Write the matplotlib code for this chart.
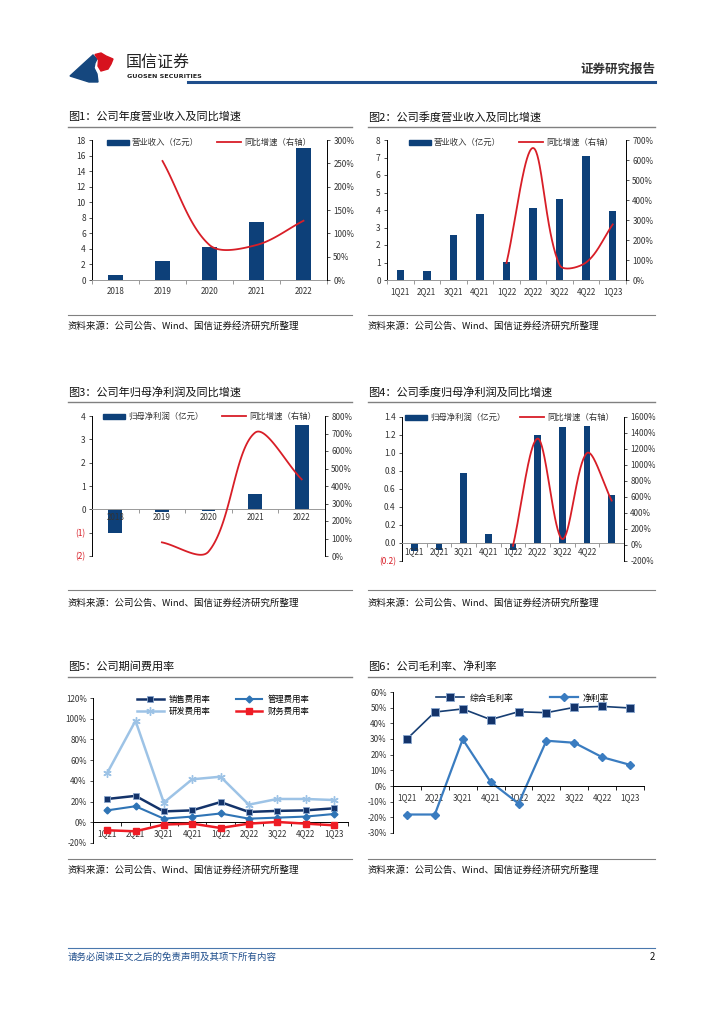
import numpy as np
from matplotlib import pyplot as plt
from matplotlib.patches import Rectangle, Polygon
from matplotlib.lines import Line2D

plt.rcParams['font.family'] = ['Noto Sans CJK SC', 'DejaVu Sans']
plt.rcParams['axes.linewidth'] = 0.7

## Data
years = ['2018', '2019', '2020', '2021', '2022']
rev_year = [0.7, 2.45, 4.3, 7.5, 17.0]
rev_year_yoy = [255, 75, 75, 127]            # from 2019

quarters = ['1Q21', '2Q21', '3Q21', '4Q21', '1Q22', '2Q22', '3Q22', '4Q22', '1Q23']
rev_q = [0.55, 0.5, 2.6, 3.8, 1.02, 4.1, 4.65, 7.1, 3.95]
rev_q_yoy = [85, 660, 75, 88, 278]          # from 1Q22

np_year = [-1.0, -0.12, -0.05, 0.65, 3.62]
np_year_yoy = [78, 25, 705, 438]            # from 2019

np_q = [-0.085, -0.08, 0.78, 0.1, -0.08, 1.2, 1.29, 1.3, 0.53]
np_q_yoy = [-10, 1330, 75, 1150, 555]       # from 1Q22
np_q_labels = ['1Q21', '2Q21', '3Q21', '4Q21', '1Q22', '2Q22', '3Q22', '4Q22', '']

sell_rate = [22.5, 25.5, 10.5, 11.5, 19.5, 10, 11, 11.5, 13.5]
admin_rate = [11.5, 15.5, 3.5, 5.5, 8.5, 3.5, 4.5, 5.5, 8]
rd_rate = [47.5, 98, 19, 41.5, 44, 17, 22.5, 22.5, 21.5]
fin_rate = [-7.7, -8.7, -2.2, -1.3, -5.5, -1.3, 0.3, -1.3, -2.9]

gross_margin = [30, 47.2, 49.2, 42.4, 47.4, 46.8, 50.2, 50.8, 49.8]
net_margin = [-18.2, -18.2, 29.8, 2.6, -11.2, 28.9, 27.6, 18.4, 13.5]

W, H = 724, 1024
NAVY = '#0d4079'
RED = '#d81e27'
GRAY = '#333333'
TK = 5.8
fig = plt.figure(figsize=(W / 100, H / 100), dpi=100)


def fx(x):
    return x / W


def fy(y):
    return 1 - y / H


def axes_px(x0, y0, x1, y1):
    return fig.add_axes([x0 / W, 1 - y1 / H, (x1 - x0) / W, (y1 - y0) / H])


def smooth(xs, ys, kx, ky, n=40):
    # excel-like smoothed line: bezier through the points, tangents weighted by
    # segment length on screen (kx, ky = pixels per data unit)
    p = np.column_stack([np.asarray(xs, float) * kx, np.asarray(ys, float) * ky])
    p = np.vstack([p[0], p, p[-1]])
    d = np.hypot(*np.diff(p, axis=0).T)
    t = np.linspace(0, 1, n)
    out = []
    for i in range(1, len(p) - 2):
        p0, p3 = p[i], p[i + 1]
        w0 = d[i] / (d[i - 1] + d[i]) if d[i - 1] + d[i] > 0 else 0.5
        w1 = d[i] / (d[i] + d[i + 1]) if d[i] + d[i + 1] > 0 else 0.5
        c1 = p0 + (p[i + 1] - p[i - 1]) * w0 / 3
        c2 = p3 - (p[i + 2] - p[i]) * w1 / 3
        b = ((1 - t) ** 3)[:, None] * p0 + (3 * (1 - t) ** 2 * t)[:, None] * c1 \
            + (3 * (1 - t) * t ** 2)[:, None] * c2 + (t ** 3)[:, None] * p3
        out.append(b)
    out = np.vstack(out)
    return out[:, 0] / kx, out[:, 1] / ky


def section(x0, x1, title, y_title, y_line, y_sline, y_src):
    fig.text(fx(x0), fy(y_title), title, fontsize=8, va='center', color='#111111')
    fig.add_artist(Line2D([fx(x0), fx(x1)], [fy(y_line), fy(y_line)], color='#808080', lw=1.0))
    fig.add_artist(Line2D([fx(x0), fx(x1)], [fy(y_sline), fy(y_sline)], color='#808080', lw=0.8))
    fig.text(fx(x0), fy(y_src), '资料来源：公司公告、Wind、国信证券经济研究所整理', fontsize=6.8,
             va='center', color='#111111')


def legend_bar_line(xb, xl, y, bar_text, line_text, w=22):
    fig.add_artist(Rectangle((fx(xb), fy(y + 2.5)), w / W, 5 / H, color=NAVY, transform=fig.transFigure))
    fig.text(fx(xb + w + 3), fy(y), bar_text, fontsize=6, va='center', color=GRAY)
    fig.add_artist(Line2D([fx(xl), fx(xl + 24)], [fy(y), fy(y)], color=RED, lw=1.3))
    fig.text(fx(xl + 27), fy(y), line_text, fontsize=6, va='center', color=GRAY)


def style_bar_axes(ax, ax2, labels):
    n = len(labels)
    ax.set_xlim(-0.5, n - 0.5)
    ax.set_xticks(range(n))
    ax.set_xticklabels(labels)
    ax.set_xticks(np.arange(-0.5, n, 1.0), minor=True)
    ax.tick_params(axis='x', which='major', length=0, labelsize=TK, pad=5, colors=GRAY)
    ax.tick_params(axis='x', which='minor', length=3, width=0.6, direction='out', color='#888888')
    ax.tick_params(axis='y', length=2.5, width=0.6, labelsize=6, pad=2, colors=GRAY)
    ax2.tick_params(axis='y', length=2.5, width=0.6, labelsize=TK, pad=2, colors=GRAY)
    for a in (ax, ax2):
        a.spines['top'].set_visible(False)
        a.patch.set_visible(False)
    ax.spines['right'].set_visible(False)
    ax2.spines['left'].set_visible(False)
    ax2.spines['bottom'].set_visible(False)
    ax.spines['bottom'].set_color('#999999')
    ax.spines['left'].set_color('black')
    ax2.spines['right'].set_color('black')


## Header
fig.add_artist(Polygon([(fx(70), fy(76)), (fx(82), fy(65)), (fx(93), fy(55)), (fx(97), fy(59)),
                        (fx(95), fy(63)), (fx(94), fy(68)), (fx(97), fy(74)), (fx(98), fy(82)),
                        (fx(89), fy(82))],
                       closed=True, color='#15477e', transform=fig.transFigure))
fig.add_artist(Polygon([(fx(95), fy(54.5)), (fx(101), fy(53)), (fx(106), fy(56)), (fx(113), fy(59)),
                        (fx(111), fy(64)), (fx(108), fy(69)), (fx(101), fy(71)), (fx(98), fy(66)),
                        (fx(98.5), fy(60))],
                       closed=True, color='#d7121e', transform=fig.transFigure))
fig.text(fx(126), fy(63), '国信证券', fontsize=11.5, va='center', color='#222222')
fig.text(fx(127), fy(76), 'GUOSEN SECURITIES', fontsize=4.6, va='center', color='#222222',
         fontweight='bold', family=['DejaVu Sans'])
fig.text(fx(655), fy(69), '证券研究报告', fontsize=9, va='center', ha='right', color='#333333',
         fontweight='bold')
fig.add_artist(Line2D([fx(188), fx(655)], [fy(82), fy(82)], color='#1f4e8c', lw=2.2))

## Footer
fig.add_artist(Line2D([fx(68), fx(655)], [fy(948), fy(948)], color='#4a78ad', lw=0.8))
fig.text(fx(68), fy(957), '请务必阅读正文之后的免责声明及其项下所有内容', fontsize=6.8, va='center',
         color='#1f4e8c', style='italic')
fig.text(fx(655), fy(957), '2', fontsize=7, va='center', ha='right', color='#111111')

pct = lambda v: f'{int(v)}%'

## Fig 1: annual revenue
section(68, 352, '图1：公司年度营业收入及同比增速', 117, 127, 315, 326)
ax = axes_px(92, 140, 327, 280)
ax.bar(range(5), rev_year, width=0.3, color=NAVY)
ax.set_ylim(0, 18)
ax.set_yticks(range(0, 19, 2))
ax2 = ax.twinx()
ax2.set_ylim(0, 300)
ticks = list(range(0, 301, 50))
ax2.set_yticks(ticks, [pct(v) for v in ticks])
sx, sy = smooth(range(1, 5), rev_year_yoy, 47, 140 / 300)
ax2.plot(sx, sy, color=RED, lw=1.3)
style_bar_axes(ax, ax2, years)
legend_bar_line(107, 217, 142, '营业收入（亿元）', '同比增速（右轴）')

## Fig 2: quarterly revenue
section(368, 655, '图2：公司季度营业收入及同比增速', 117, 127, 315, 326)
ax = axes_px(387, 140, 626, 280)
ax.bar(range(9), rev_q, width=0.28, color=NAVY)
ax.set_ylim(0, 8)
ax.set_yticks(range(0, 9))
ax2 = ax.twinx()
ax2.set_ylim(0, 700)
ticks = list(range(0, 701, 100))
ax2.set_yticks(ticks, [pct(v) for v in ticks])
sx, sy = smooth(range(4, 9), rev_q_yoy, 26.6, 140 / 700)
ax2.plot(sx, sy, color=RED, lw=1.3)
style_bar_axes(ax, ax2, quarters)
legend_bar_line(409, 519, 142, '营业收入（亿元）', '同比增速（右轴）')

## Fig 3: annual net profit
section(68, 352, '图3：公司年归母净利润及同比增速', 392, 402, 590, 603)
ax = axes_px(92, 416, 325, 556)
ax.bar(range(5), np_year, width=0.3, color=NAVY, zorder=1)
ax.set_ylim(-2, 4)
ticks = list(range(-2, 5))
ax.set_yticks(ticks, [f'({-v})' if v < 0 else str(v) for v in ticks])
ax2 = ax.twinx()
ax2.set_ylim(0, 800)
ticks2 = list(range(0, 801, 100))
ax2.set_yticks(ticks2, [pct(v) for v in ticks2])
sx, sy = smooth(range(1, 5), np_year_yoy, 46.6, 140 / 800)
ax2.plot(sx, sy, color=RED, lw=1.3)
style_bar_axes(ax, ax2, years)
ax.spines['bottom'].set_position(('data', 0))
ax.tick_params(axis='x', which='major', pad=3)
for t, v in zip(ax.get_yticklabels(), ticks):
    if v < 0:
        t.set_color(RED)
legend_bar_line(103, 222, 416, '归母净利润（亿元）', '同比增速（右轴）')

## Fig 4: quarterly net profit
section(368, 655, '图4：公司季度归母净利润及同比增速', 392, 402, 590, 603)
ax = axes_px(402, 417, 624, 561)
ax.bar(range(9), np_q, width=0.27, color=NAVY, zorder=1)
ax.set_ylim(-0.2, 1.4)
ticks = [round(-0.2 + 0.2 * i, 1) for i in range(9)]
ax.set_yticks(ticks, [f'({-v:.1f})' if v < 0 else f'{v:.1f}' for v in ticks])
ax2 = ax.twinx()
ax2.set_ylim(-200, 1600)
ticks2 = list(range(-200, 1601, 200))
ax2.set_yticks(ticks2, [pct(v) for v in ticks2])
sx, sy = smooth(range(4, 9), np_q_yoy, 24.7, 144 / 1800)
ax2.plot(sx, sy, color=RED, lw=1.3)
style_bar_axes(ax, ax2, np_q_labels)
ax.spines['bottom'].set_position(('data', 0))
ax.tick_params(axis='x', which='major', pad=3)
for t, v in zip(ax.get_yticklabels(), ticks):
    if v < 0:
        t.set_color(RED)
legend_bar_line(405, 520, 417, '归母净利润（亿元）', '同比增速（右轴）')


def style_line_axes(ax, lo, hi, step):
    ax.set_xlim(-0.5, 8.5)
    ax.set_ylim(lo, hi)
    ticks = list(range(lo, hi + 1, step))
    ax.set_yticks(ticks, [pct(v) for v in ticks])
    ax.set_xticks(range(9))
    ax.set_xticklabels(quarters)
    ax.set_xticks(np.arange(-0.5, 9, 1.0), minor=True)
    ax.spines['bottom'].set_position(('data', 0))
    ax.spines['top'].set_visible(False)
    ax.spines['right'].set_visible(False)
    ax.tick_params(axis='x', which='major', length=0, labelsize=TK, pad=5, colors=GRAY)
    ax.tick_params(axis='x', which='minor', length=3, width=0.6, direction='out')
    ax.tick_params(axis='y', length=2.5, width=0.6, labelsize=TK, pad=2, colors=GRAY)
    ax.patch.set_visible(False)


## Fig 5: expense ratios
section(68, 352, '图5：公司期间费用率', 667, 677, 859, 870)
ax = axes_px(93, 698, 348, 843)
x = range(9)
ax.plot(x, rd_rate, color='#9dc3e6', lw=1.8, marker=(6, 2, 0), ms=6, mew=1.0, label='研发费用率', zorder=2)
ax.plot(x, sell_rate, color='#13336a', lw=1.8, marker='s', ms=5, mfc='#13336a', mec='#8aa6cc', mew=0.6,
        label='销售费用率', zorder=3)
ax.plot(x, admin_rate, color='#2f74b5', lw=1.5, marker='D', ms=3.5, label='管理费用率', zorder=3)
ax.plot(x, fin_rate, color='#ee1c25', lw=1.8, marker='s', ms=5, label='财务费用率', zorder=4)
style_line_axes(ax, -20, 120, 20)
h = {l.get_label(): l for l in ax.get_lines()}
ax.legend([h['销售费用率'], h['研发费用率'], h['管理费用率'], h['财务费用率']],
          ['销售费用率', '研发费用率', '管理费用率', '财务费用率'], ncol=2, loc='upper left',
          bbox_to_anchor=(0.15, 1.06), frameon=False, fontsize=6, handlelength=3.2,
          columnspacing=3.0, labelspacing=0.35, handletextpad=0.6, borderpad=0.2)

## Fig 6: margins
section(368, 655, '图6：公司毛利率、净利率', 667, 677, 859, 870)
ax = axes_px(393, 692, 644, 833)
ax.plot(x, gross_margin, color='#173e73', lw=1.2, marker='s', ms=5.5, mfc='#13336a', mec='#8aa6cc',
        mew=0.7, label='综合毛利率')
ax.plot(x, net_margin, color='#3a7cc0', lw=1.6, marker='D', ms=4, label='净利率')
style_line_axes(ax, -30, 60, 10)
ax.legend(ncol=2, loc='upper left', bbox_to_anchor=(0.14, 1.045), frameon=False, fontsize=6.3,
          handlelength=3.2, columnspacing=4.2, handletextpad=0.6)

fig.savefig('out.png', dpi=100)
